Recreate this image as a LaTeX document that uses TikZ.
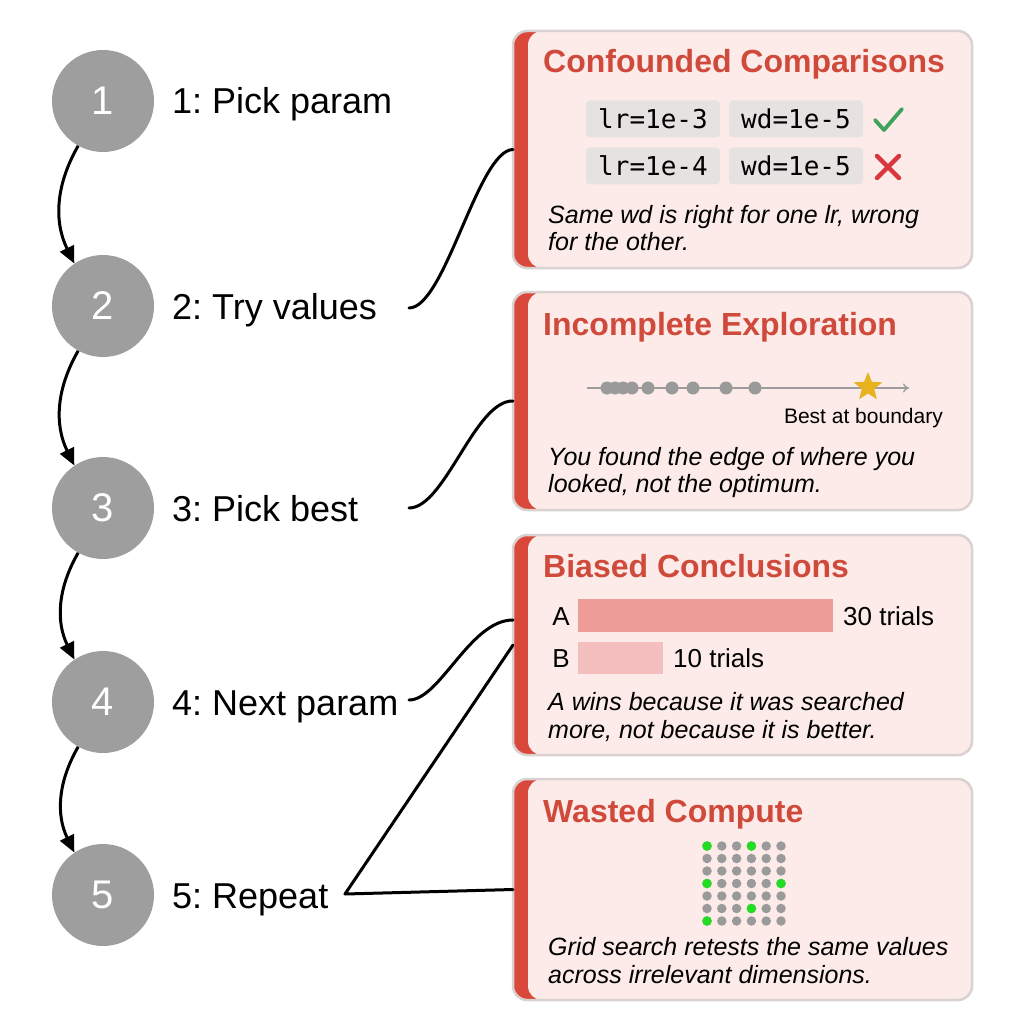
\documentclass[tikz,border=0pt]{standalone}
\usepackage{fontspec}
\setmainfont{Liberation Sans}
\newfontfamily\monof{DejaVu Sans Mono}
\usetikzlibrary{arrows.meta,shapes.geometric}
\frenchspacing
\definecolor{circgray}{HTML}{9E9E9E}
\definecolor{cardpink}{HTML}{FCEBE8}
\definecolor{cardline}{HTML}{D9D2D1}
\definecolor{barred}{HTML}{D9483B}
\definecolor{titlered}{HTML}{D04A3C}
\definecolor{chipgray}{HTML}{E6E2E1}
\definecolor{okgreen}{HTML}{3DA35A}
\definecolor{badred}{HTML}{D9363E}
\definecolor{barA}{HTML}{EE9C98}
\definecolor{barB}{HTML}{F5BEBF}
\definecolor{dotgray}{HTML}{9A9A9A}
\definecolor{dotgreen}{HTML}{22DD22}
\definecolor{stargold}{HTML}{E8B21E}
\definecolor{axisgray}{HTML}{9C9C9C}
\newcommand\cardbox[3]{%
  \fill[barred, rounded corners=14pt] (513,#2) rectangle (972,#3);
  \fill[cardpink, rounded corners=14pt] (528,#2) rectangle (972,#3);
  \draw[cardline, line width=2.5pt, rounded corners=14pt] (513,#2) rectangle (972,#3);
  \coordinate (#1) at (513,{(#2+#3)/2});
}
\begin{document}
\begin{tikzpicture}[x=1pt,y=-1pt,
  stepcirc/.style={circle, fill=circgray, minimum size=102pt, inner sep=0pt, text=white, font=\fontsize{40}{40}\selectfont},
  lbl/.style={anchor=base west, inner sep=0pt, font=\fontsize{36}{40}\selectfont},
  ttl/.style={anchor=base west, inner sep=0pt, text=titlered, font=\fontsize{32}{36}\selectfont\bfseries},
  body/.style={anchor=base west, inner sep=0pt, font=\fontsize{25}{28}\selectfont\itshape},
  small/.style={anchor=base west, inner sep=0pt, font=\fontsize{26}{28}\selectfont},
  chip/.style={fill=chipgray, rounded corners=4pt, minimum width=134pt, minimum height=37pt, inner sep=0pt, font=\fontsize{26}{26}\selectfont\monof},
  flow/.style={-{Triangle[length=17pt,width=15pt]}, line width=3pt},
  conn/.style={line width=3pt, line cap=round, line join=round},
  gdot/.style={circle, fill=dotgray, minimum size=9.5pt, inner sep=0pt},
  gdotg/.style={circle, fill=dotgreen, minimum size=9.5pt, inner sep=0pt},
  adot/.style={circle, fill=dotgray, minimum size=13pt, inner sep=0pt}]
\fill[white] (0,0) rectangle (1024,1024);
\path[use as bounding box] (0,0) rectangle (1024,1024);

% ---- steps ----
\node[stepcirc] (c1) at (103,101) {1};
\node[stepcirc] (c2) at (103,306) {2};
\node[stepcirc] (c3) at (103,508) {3};
\node[stepcirc] (c4) at (103,702) {4};
\node[stepcirc] (c5) at (103,895) {5};
\node[lbl] (l1) at (172,114) {1: Pick param};
\node[lbl] (l2) at (172,319) {2: Try values};
\node[lbl] (l3) at (172,521) {3: Pick best};
\node[lbl] (l4) at (172,715) {4: Next param};
\node[lbl] (l5) at (172,908) {5: Repeat};
\draw[flow] (c1.241) to[bend right=28] (c2.124);
\draw[flow] (c2.241) to[bend right=28] (c3.124);
\draw[flow] (c3.241) to[bend right=28] (c4.124);
\draw[flow] (c4.241) to[bend right=28] (c5.124);

% ---- cards ----
\cardbox{k1}{31}{268}
\cardbox{k2}{292}{510}
\cardbox{k3}{535}{755}
\cardbox{k4}{779}{1000}

% card 1
\node[ttl] (t1) at (543,73) {Confounded Comparisons};
\node[chip] (p1) at (653,119) {lr=1e-3};
\node[chip] (p2) at (796,119) {wd=1e-5};
\node[chip] (p3) at (653,166) {lr=1e-4};
\node[chip] (p4) at (796,166) {wd=1e-5};
\draw[okgreen, line width=3.8pt, line cap=round, line join=round] (875,120) -- (884,130) -- (902,109);
\draw[badred, line width=4.5pt, line cap=round] (877,156) -- (899,178) (899,156) -- (877,178);
\node[body] (b1a) at (548,223) {Same wd is right for one lr, wrong};
\node[body] (b1b) at (548,250) {for the other.};

% card 2
\node[ttl] (t2) at (543,335) {Incomplete Exploration};
\draw[axisgray, line width=1.3pt, -{To[length=6pt,width=9pt]}] (587,388) -- (909,388);
\foreach \x in {607,615,623,632,648,672,693,726,755} \node[adot] at (\x,388) {};
\node[star, star points=5, star point ratio=2.3, fill=stargold, minimum size=30pt, inner sep=0pt] (st) at (868,387) {};
\node[anchor=base east, inner sep=0pt, font=\fontsize{21}{24}\selectfont] (bb) at (943,423) {Best at boundary};
\node[body] (b2a) at (548,465) {You found the edge of where you};
\node[body] (b2b) at (548,492) {looked, not the optimum.};

% card 3
\node[ttl] (t3) at (543,577) {Biased Conclusions};
\fill[barA] (578,599) rectangle (833,632);
\fill[barB] (578,642) rectangle (663,674);
\node[anchor=base, inner sep=0pt, font=\fontsize{26}{28}\selectfont] (la) at (561,625) {A};
\node[anchor=base, inner sep=0pt, font=\fontsize{26}{28}\selectfont] (lb) at (561,667) {B};
\node[small] (n30) at (843,625) {30 trials};
\node[small] (n10) at (673,667) {10 trials};
\node[body] (b3a) at (548,710) {A wins because it was searched};
\node[body] (b3b) at (548,738) {more, not because it is better.};

% card 4
\node[ttl] (t4) at (543,822) {Wasted Compute};
\foreach \c in {0,...,5} \foreach \r in {0,...,6} {
  \node[gdot] at ({707+14.8*\c},{846+12.5*\r}) {};
}
\foreach \c/\r in {0/0,3/0,0/3,5/3,3/5,0/6} {
  \node[gdotg] at ({707+14.8*\c},{846+12.5*\r}) {};
}
\node[body] (b4a) at (548,955) {Grid search retests the same values};
\node[body] (b4b) at (548,983) {across irrelevant dimensions.};

% ---- connectors ----
\coordinate (s2) at (409,308);
\coordinate (s3) at (409,508);
\coordinate (s4) at (409,700);
\coordinate (s5) at (345,894);
\coordinate (k3up) at (513,620);
\draw[conn] (s2) .. controls (445,308) and (478,150) .. (k1);
\draw[conn] (s3) .. controls (445,508) and (475,400) .. (k2);
\draw[conn] (s4) .. controls (440,700) and (470,620) .. (k3up);
\draw[conn] (k3) -- (s5) -- (k4);
\end{tikzpicture}
\end{document}
